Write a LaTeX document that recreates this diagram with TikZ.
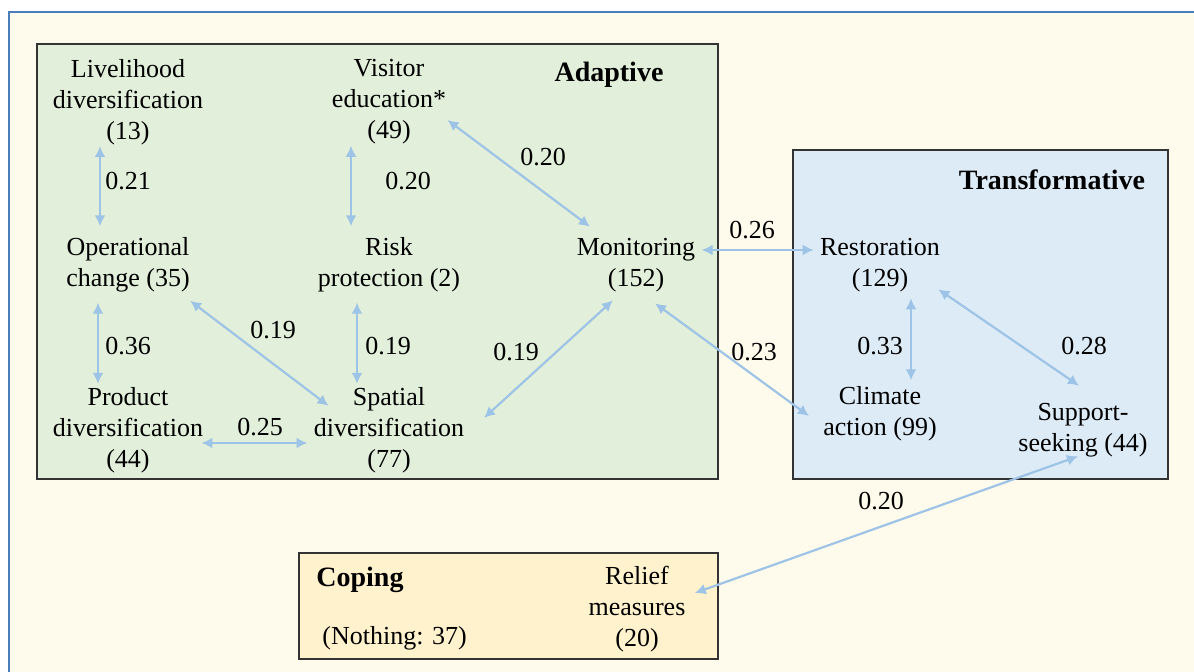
\documentclass[tikz,border=0pt]{standalone}
\usepackage{fontspec}
\setmainfont{Liberation Serif}
\usetikzlibrary{arrows.meta}
\definecolor{pagefill}{HTML}{FFFBEC}
\definecolor{pageline}{HTML}{4A7EBB}
\definecolor{adaptfill}{HTML}{E2EFDA}
\definecolor{transfill}{HTML}{DDEBF7}
\definecolor{copefill}{HTML}{FFF2CC}
\definecolor{linkblue}{HTML}{9DC3E6}
\definecolor{boxline}{HTML}{333333}
\begin{document}
\begin{tikzpicture}[x=0.5pt, y=-0.5pt, >={Latex[length=5.5pt,width=5.5pt]},
    item/.style={align=center, inner sep=3pt, font=\fontsize{13}{15.5}\selectfont},
    weight/.style={inner sep=1pt, font=\fontsize{13}{15.5}\selectfont},
    title/.style={inner sep=1pt, font=\fontsize{14}{16}\selectfont\bfseries},
    group/.style={draw=boxline, line width=1pt},
    link/.style={<->, draw=linkblue, line width=1.1pt}]
    \useasboundingbox (0,0) rectangle (1194,672);
    \clip (0,0) rectangle (1194,672);
    \draw[pageline, fill=pagefill, line width=1pt] (9,12.5) rectangle (1220,700);

    % groups
    \draw[group, fill=adaptfill] (37,44) rectangle (718,479);
    \draw[group, fill=transfill] (793,150) rectangle (1168,479);
    \draw[group, fill=copefill] (299,553) rectangle (718,659);
    \node[title] (adapt) at (609,75) {Adaptive};
    \node[title] (trans) at (1052,180) {Transformative};
    \node[title, anchor=west] (cope) at (314,580) {Coping};
    \node[item, anchor=west] (none) at (316,638) {(Nothing: 37)};

    % strategies
    \node[item] (liv) at (128,102) {Livelihood\\diversification\\(13)};
    \node[item] (vis) at (389,102) {Visitor\\education*\\(49)};
    \node[item] (op) at (128,265) {Operational\\change (35)};
    \node[item] (risk) at (389,265) {Risk\\protection (2)};
    \node[item] (mon) at (636,265) {Monitoring\\(152)};
    \node[item] (prod) at (128,430) {Product\\diversification\\(44)};
    \node[item] (spat) at (389,430) {Spatial\\diversification\\(77)};
    \node[item] (rest) at (880,265) {Restoration\\(129)};
    \node[item] (clim) at (880,414) {Climate\\action (99)};
    \node[item] (supp) at (1083,430) {Support-\\seeking (44)};
    \node[item] (rel) at (637,609) {Relief\\measures\\(20)};

    % links
    \draw[link] ([xshift=-14pt,yshift=2.5pt]liv.south) -- ([xshift=-14pt,yshift=2.5pt]op.north);
    \draw[link] ([xshift=-19pt,yshift=2.5pt]vis.south) -- ([xshift=-19pt,yshift=2.5pt]risk.north);
    \draw[link] ([xshift=-2.5pt,yshift=-9pt]vis.east) -- ([xshift=-23pt,yshift=2.5pt]mon.north);
    \draw[link] ([xshift=-15pt,yshift=-2pt]op.south) -- ([xshift=-15pt,yshift=-1.5pt]prod.north);
    \draw[link] ([xshift=-3pt,yshift=-1pt]op.south east) -- ([xshift=10.5pt,yshift=-12.5pt]spat.north west);
    \draw[link] ([xshift=-16pt,yshift=-2pt]risk.south) -- ([xshift=-16pt,yshift=-1.5pt]spat.north);
    \draw[link] ([xshift=-4pt,yshift=-6.5pt]prod.east) -- ([yshift=-6.5pt]spat.west);
    \draw[link] ([xshift=6.75pt,yshift=6pt]spat.east) -- ([xshift=-11.5pt,yshift=-1pt]mon.south);
    \draw[link] ([yshift=7.5pt]mon.east) -- ([yshift=7.5pt]rest.west);
    \draw[link] ([xshift=9.5pt,yshift=-2.5pt]mon.south) -- ([xshift=-4pt,yshift=-1pt]clim.west);
    \draw[link] ([xshift=15.5pt]rest.south) -- ([xshift=15.5pt]clim.north);
    \draw[link] ([xshift=-4pt,yshift=4.5pt]rest.south east) -- ([xshift=-2pt,yshift=5.5pt]supp.north);
    \draw[link] ([xshift=-2.5pt,yshift=3.5pt]supp.south) -- ([xshift=1.5pt,yshift=8pt]rel.east);

    % weights
    \node[weight] (w1) at (128,181) {0.21};
    \node[weight] (w2) at (408,181) {0.20};
    \node[weight] (w3) at (543,157) {0.20};
    \node[weight] (w4) at (128,346) {0.36};
    \node[weight] (w5) at (273,330) {0.19};
    \node[weight] (w6) at (388,346) {0.19};
    \node[weight] (w7) at (260,427) {0.25};
    \node[weight] (w8) at (516,352) {0.19};
    \node[weight] (w9) at (752,230) {0.26};
    \node[weight] (w10) at (754,352) {0.23};
    \node[weight] (w11) at (880,346) {0.33};
    \node[weight] (w12) at (1084,346) {0.28};
    \node[weight] (w13) at (881,501) {0.20};
\end{tikzpicture}
\end{document}
